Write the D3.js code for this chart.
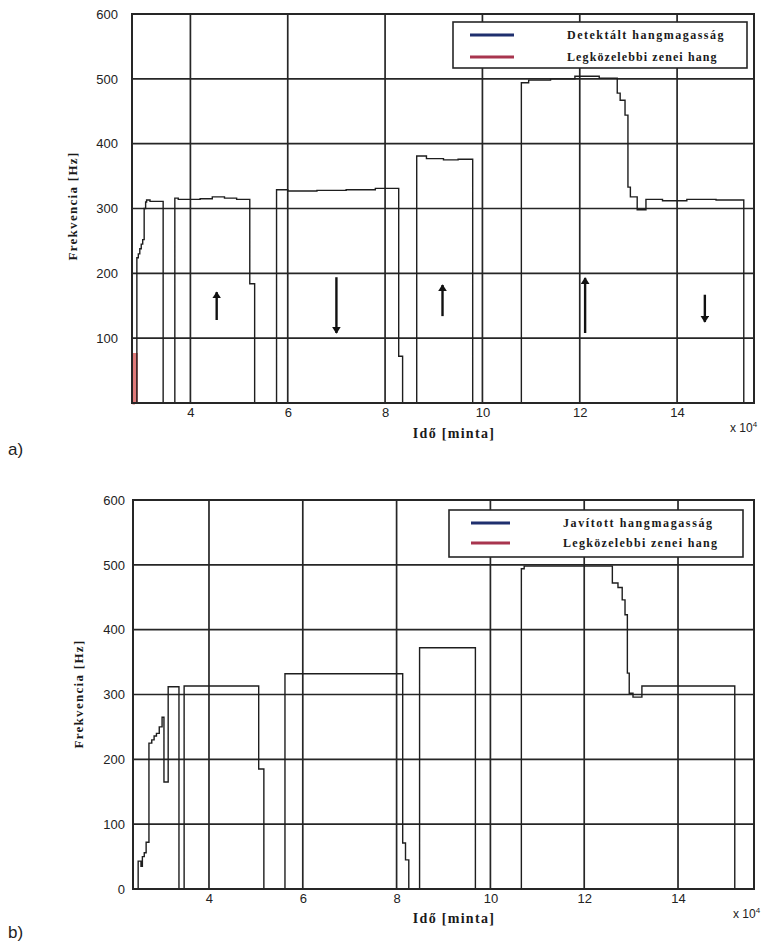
<!DOCTYPE html>
<html><head><meta charset="utf-8">
<script src="https://cdn.jsdelivr.net/npm/d3@7"></script>
<style>body{margin:0;background:#fff}</style>
</head><body><svg id="c" width="762" height="947"></svg>
<script>
// ---------- data ----------
const xTicks = [4, 6, 8, 10, 12, 14];
const yTicksA = [100, 200, 300, 400, 500, 600];
const yTicksB = [0, 100, 200, 300, 400, 500, 600];
const gridY = [100, 200, 300, 400, 500];

// (a) detected pitch, step points (x in 1e4 samples, y in Hz)
const detX = [2.80, 2.90, 2.93, 2.96, 2.99, 3.02, 3.05, 3.08, 3.10, 3.17, 3.44,
  3.68, 3.75, 4.20, 4.45, 4.70, 4.95, 5.22, 5.32,
  5.77, 6.00, 6.60, 7.20, 7.80, 8.28, 8.36,
  8.65, 8.85, 9.20, 9.50, 9.80,
  10.80, 10.95, 11.40, 11.90, 12.40, 12.77, 12.83, 12.93, 12.99, 13.04, 13.18, 13.36, 13.70, 14.20, 14.80, 15.37, 15.55];
const detY = [0, 224, 230, 238, 245, 252, 300, 310, 313, 311, 0,
  316, 314, 315, 318, 316, 314, 184, 0,
  329, 327, 328, 329, 331, 72, 0,
  381, 377, 375, 376, 0,
  494, 498, 500, 504, 501, 478, 467, 444, 333, 318, 298, 314, 312, 314, 313, 0, 0];
// (a) nearest musical note (visible part)
const noteAX = [2.81, 2.83, 2.89];
const noteAY = [0, 75, 0];

// (b) corrected pitch
const corX = [2.40, 2.49, 2.55, 2.58, 2.62, 2.66, 2.72, 2.78, 2.83, 2.88, 2.94, 3.00, 3.04, 3.13, 3.36,
  3.47, 5.06, 5.17,
  5.62, 8.13, 8.19, 8.26,
  8.49, 9.68,
  10.66, 10.72, 12.60, 12.72, 12.81, 12.87, 12.92, 12.96, 13.04, 13.23, 15.21, 15.60];
const corY = [0, 43, 35, 50, 56, 72, 225, 230, 236, 240, 250, 265, 165, 312, 0,
  313, 185, 0,
  332, 71, 45, 0,
  372, 0,
  494, 498, 472, 465, 446, 423, 333, 302, 296, 313, 0, 0];

// arrows in panel (a)
const arrowX = [4.54, 7.00, 9.18, 12.11, 14.57];
const arrowFrom = [128, 194, 134, 108, 167];
const arrowTo = [171, 108, 182, 193, 125];

const legendA = ["Detektált hangmagasság", "Legközelebbi zenei hang"];
const legendB = ["Javított hangmagasság", "Legközelebbi zenei hang"];

// ---------- drawing ----------
const svg = d3.select("#c");
const defs = svg.append("defs");
defs.append("marker").attr("id", "ah").attr("viewBox", "0 0 10 10")
  .attr("refX", 9).attr("refY", 5).attr("markerWidth", 7).attr("markerHeight", 9)
  .attr("markerUnits", "userSpaceOnUse").attr("orient", "auto")
  .attr("preserveAspectRatio", "none")
  .append("path").attr("d", "M0,0L10,5L0,10Z").attr("fill", "#111");

const INK = "#262626";

function panel(cfg) {
  const g = svg.append("g");
  const x = d3.scaleLinear().domain(cfg.xd).range([cfg.l, cfg.r]);
  const y = d3.scaleLinear().domain([0, 600]).range([cfg.b, cfg.t]);

  // grid
  g.selectAll(".gx").data(xTicks).join("line")
    .attr("x1", d => x(d)).attr("x2", d => x(d)).attr("y1", cfg.t).attr("y2", cfg.b)
    .attr("stroke", INK).attr("stroke-width", 1.7);
  g.selectAll(".gy").data(gridY).join("line")
    .attr("y1", d => y(d)).attr("y2", d => y(d)).attr("x1", cfg.l).attr("x2", cfg.r)
    .attr("stroke", INK).attr("stroke-width", 1.7);

  // series
  const line = d3.line().x(d => x(d[0])).y(d => y(d[1])).curve(d3.curveStepAfter);
  cfg.series.forEach(s => {
    g.append("path").datum(d3.zip(s.xs, s.ys)).attr("d", line)
      .attr("fill", s.fill || "none").attr("stroke", s.color).attr("stroke-width", s.w || 1.3);
  });

  // arrows
  if (cfg.arrows) {
    g.selectAll(".ar").data(d3.range(cfg.arrows.x.length)).join("line")
      .attr("x1", i => x(cfg.arrows.x[i])).attr("x2", i => x(cfg.arrows.x[i]))
      .attr("y1", i => y(cfg.arrows.from[i])).attr("y2", i => y(cfg.arrows.to[i]))
      .attr("stroke", "#111").attr("stroke-width", 2.4).attr("marker-end", "url(#ah)");
  }

  // border
  g.append("rect").attr("x", cfg.l).attr("y", cfg.t).attr("width", cfg.r - cfg.l).attr("height", cfg.b - cfg.t)
    .attr("fill", "none").attr("stroke", INK).attr("stroke-width", 2);

  // axes tick labels
  const ax = g.append("g").attr("transform", `translate(0,${cfg.b})`)
    .call(d3.axisBottom(x).tickValues(xTicks).tickSize(0).tickPadding(5));
  ax.select(".domain").remove();
  const ay = g.append("g").attr("transform", `translate(${cfg.l},0)`)
    .call(d3.axisLeft(y).tickValues(cfg.yTicks).tickSize(0).tickPadding(cfg.yPad));
  ay.select(".domain").remove();
  g.selectAll(".tick text").attr("font-family", "Liberation Sans, Arial, sans-serif")
    .attr("font-size", 13).attr("fill", "#222");

  // axis titles
  g.append("text").attr("x", cfg.xlab[0]).attr("y", cfg.xlab[1]).attr("text-anchor", "middle")
    .attr("font-family", "Liberation Serif, serif").attr("font-weight", "bold")
    .attr("font-size", 14).attr("letter-spacing", 1.3).attr("fill", "#1a1a1a").text("Idő [minta]");
  g.append("text").attr("transform", `translate(${cfg.ylab[0]},${cfg.ylab[1]}) rotate(-90)`)
    .attr("text-anchor", "middle")
    .attr("font-family", "Liberation Serif, serif").attr("font-weight", "bold")
    .attr("font-size", 13).attr("letter-spacing", 1.3).attr("fill", "#1a1a1a").text("Frekvencia [Hz]");
  const ex = g.append("text").attr("x", cfg.exp[0]).attr("y", cfg.exp[1])
    .attr("font-family", "Liberation Sans, Arial, sans-serif").attr("font-size", 12).attr("fill", "#222");
  ex.append("tspan").text("x 10");
  ex.append("tspan").attr("dy", -5).attr("font-size", 8).text("4");

  // panel letter
  g.append("text").attr("x", 8).attr("y", cfg.letterY)
    .attr("font-family", "Liberation Sans, Arial, sans-serif").attr("font-size", 17).attr("fill", "#222").text(cfg.letter);

  // legend
  const L = cfg.legend;
  g.append("rect").attr("x", L.x).attr("y", L.y).attr("width", L.w).attr("height", L.h)
    .attr("fill", "#fff").attr("stroke", INK).attr("stroke-width", 1.6);
  const cols = ["#1f2f6e", "#a8354e"];
  L.labels.forEach((t, i) => {
    const yy = L.y + L.rows[i];
    g.append("line").attr("x1", L.lx[0]).attr("x2", L.lx[1]).attr("y1", yy).attr("y2", yy)
      .attr("stroke", cols[i]).attr("stroke-width", 3);
    g.append("text").attr("x", L.tx).attr("y", yy + 4)
      .attr("font-family", "Liberation Serif, serif").attr("font-weight", "bold")
      .attr("font-size", 12).attr("letter-spacing", L.ls[i]).attr("fill", "#1a1a1a").text(t);
  });
}

panel({
  xd: [2.8, 15.58], l: 132, r: 754, t: 14, b: 403, yTicks: yTicksA, yPad: 14,
  series: [
    { xs: noteAX, ys: noteAY, color: "#e07a7a", w: 3 },
    { xs: detX, ys: detY, color: "#1e1e1e", w: 1.4 }
  ],
  arrows: { x: arrowX, from: arrowFrom, to: arrowTo },
  xlab: [454, 438], ylab: [77, 206], exp: [730, 432], letter: "a)", letterY: 455,
  legend: { x: 453, y: 22, w: 294, h: 46, rows: [13, 35], lx: [470, 514], tx: 567,
    labels: legendA, ls: [1.5, 1.1] }
});

panel({
  xd: [2.38, 15.62], l: 133, r: 754, t: 500, b: 889, yTicks: yTicksB, yPad: 8,
  series: [
    { xs: corX, ys: corY, color: "#1e1e1e", w: 1.4 }
  ],
  xlab: [454, 923], ylab: [83, 694], exp: [733, 918], letter: "b)", letterY: 938,
  legend: { x: 449, y: 510, w: 294, h: 47, rows: [13, 33], lx: [471, 510], tx: 563,
    labels: legendB, ls: [1.6, 1.3] }
});
</script>
</body></html>
